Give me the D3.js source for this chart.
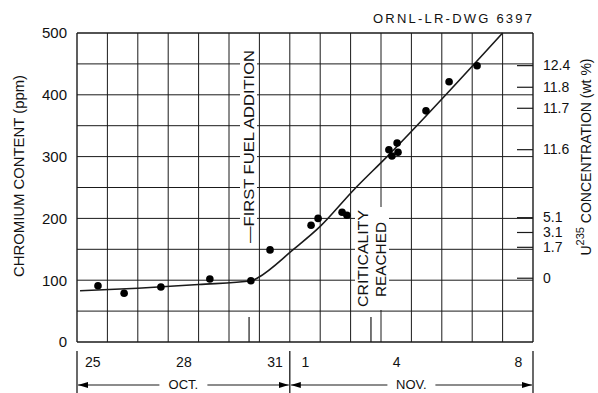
<!DOCTYPE html>
<html><head><meta charset="utf-8">
<script src="https://cdn.jsdelivr.net/npm/d3@7"></script>
<style>
html,body{margin:0;padding:0;background:#fff;}
svg{display:block;}
text{font-family:"Liberation Sans",Arial,sans-serif;fill:#111;}
</style></head><body>
<svg id="chart" width="598" height="393"></svg>
<script>
// ---- data ----
// x is measured in days from the start of Oct 25 (day index i spans [i, i+1])
const dayLabels = ["25","28","31","1","4","8"];
const dayLabelIndex = [0,3,6,7,10,14];
const yTicks = [0,100,200,300,400,500];
const yGrid = [0,50,100,150,200,250,300,350,400,450,500];
const pointDays = [0.69,1.55,2.76,4.37,5.72,6.35,7.70,7.93,8.72,8.88,10.26,10.36,10.53,10.56,11.48,12.24,13.16];
const pointPpm  = [91,79,89,102,99,149,189,200,210,205,311,301,322,307,374,421,447];
const curveDays = [0.1,2.0,4.0,5.75,5.95,7.1,8.0,9.1,10.2,14.0];
const curvePpm  = [83,87,93,99,104,149,187,246,300,500];
const u235Labels = ["12.4","11.8","11.7","11.6","5.1","3.1","1.7","0"];
const u235AtPpm  = [448,413,379,312,202,178,154,104];
const firstFuelDay = 5.66;
const criticalityDay = 9.67;
const monthSpans = [{name:"OCT.", from:0, to:7},{name:"NOV.", from:7, to:15}];

// ---- layout ----
const svg = d3.select("#chart");
const L = 77, R = 533, T = 33, B = 342;
const x = d3.scaleLinear().domain([0,15]).range([L,R]);
const y = d3.scaleLinear().domain([0,500]).range([B,T]);
const ink = "#1a1a1a";

// grid
const g = svg.append("g");
g.selectAll("line.v").data(d3.range(0,16)).join("line")
  .attr("x1",d=>x(d)).attr("x2",d=>x(d)).attr("y1",T).attr("y2",B)
  .attr("stroke",ink).attr("stroke-width",d=>(d===0||d===15)?1.4:1);
g.selectAll("line.h").data(yGrid).join("line")
  .attr("x1",L).attr("x2",R).attr("y1",d=>y(d)).attr("y2",d=>y(d))
  .attr("stroke",ink).attr("stroke-width",d=>(d===0||d===500)?1.6:1);

// annotation white backgrounds + text
function vtext(cx, cy, str, size, len){
  const t = svg.append("text").attr("transform",`translate(${cx},${cy}) rotate(-90)`)
    .attr("text-anchor","middle").attr("dominant-baseline","central")
    .style("font-size",size+"px").text(str);
  if(len) t.attr("textLength",len).attr("lengthAdjust","spacingAndGlyphs");
  return t;
}
svg.append("rect").attr("x",240).attr("y",48).attr("width",17).attr("height",197).attr("fill","#fff");
svg.append("rect").attr("x",355).attr("y",207).attr("width",34).attr("height",103).attr("fill","#fff");
vtext(249, 146.5, "\u2014FIRST FUEL ADDITION", 14, 193);
vtext(362.5, 258.5, "CRITICALITY", 14, 97);
vtext(380.5, 259.5, "REACHED", 14, 75);
// event markers
svg.append("line").attr("x1",x(firstFuelDay)).attr("x2",x(firstFuelDay)).attr("y1",317).attr("y2",B).attr("stroke",ink).attr("stroke-width",1.2);
svg.append("line").attr("x1",x(criticalityDay)).attr("x2",x(criticalityDay)).attr("y1",317).attr("y2",B).attr("stroke",ink).attr("stroke-width",1.2);

// curve
const curveData = curveDays.map((d,i)=>[d,curvePpm[i]]);
svg.append("path").datum(curveData)
  .attr("d", d3.line().x(d=>x(d[0])).y(d=>y(d[1])).curve(d3.curveMonotoneX))
  .attr("fill","none").attr("stroke",ink).attr("stroke-width",1.6);

// points
svg.selectAll("circle.pt").data(pointDays.map((d,i)=>[d,pointPpm[i]])).join("circle")
  .attr("cx",d=>x(d[0])).attr("cy",d=>y(d[1])).attr("r",3.8).attr("fill","#000");

// left axis
const la = svg.append("g").attr("transform",`translate(${L},0)`)
  .call(d3.axisLeft(y).tickValues(yTicks).tickSize(0).tickPadding(10));
la.select(".domain").remove();
la.selectAll("text").style("font-size","15px").attr("fill","#111");

// right axis (U235)
const ra = svg.append("g").attr("transform",`translate(${R},0)`)
  .call(d3.axisRight(y).tickValues(u235AtPpm).tickSizeInner(-16).tickSizeOuter(0).tickPadding(10)
    .tickFormat((d,i)=>u235Labels[i]));
ra.select(".domain").remove();
ra.selectAll("line").attr("stroke",ink).attr("stroke-width",1.2);
ra.selectAll("text").style("font-size","14px").attr("fill","#111");

// bottom axis
const ba = svg.append("g").attr("transform",`translate(0,${B})`)
  .call(d3.axisBottom(x).tickValues(dayLabelIndex.map(d=>d+0.5)).tickSize(0).tickPadding(15)
    .tickFormat((d,i)=>dayLabels[i]));
ba.select(".domain").remove();
ba.selectAll("text").style("font-size","14px").attr("fill","#111");

// month brackets
const defs = svg.append("defs");
defs.append("marker").attr("id","arr").attr("viewBox","0 0 10 6").attr("refX",10).attr("refY",3)
  .attr("markerWidth",10).attr("markerHeight",6).attr("markerUnits","userSpaceOnUse").attr("orient","auto-start-reverse")
  .append("path").attr("d","M0,0 L10,3 L0,6 Z").attr("fill","#000");
[0,7,15].forEach(d=>{
  svg.append("line").attr("x1",x(d)).attr("x2",x(d)).attr("y1",351).attr("y2",393).attr("stroke",ink).attr("stroke-width",1.3);
});
monthSpans.forEach(m=>{
  const x0 = x(m.from), x1 = x(m.to), cx = (x0+x1)/2, yy = 385;
  svg.append("line").attr("x1",x0+1).attr("x2",cx-24).attr("y1",yy).attr("y2",yy)
    .attr("stroke",ink).attr("stroke-width",1.1).attr("marker-start","url(#arr)");
  svg.append("line").attr("x1",cx+24).attr("x2",x1-1).attr("y1",yy).attr("y2",yy)
    .attr("stroke",ink).attr("stroke-width",1.1).attr("marker-end","url(#arr)");
  svg.append("text").attr("x",cx).attr("y",389).attr("text-anchor","middle").style("font-size","13px").text(m.name);
});

// axis titles
vtext(19, 176, "CHROMIUM CONTENT (ppm)", 14, 202);
const rt = svg.append("text").attr("transform","translate(586,157) rotate(-90)")
  .attr("text-anchor","middle").attr("dominant-baseline","central").style("font-size","14px");
rt.append("tspan").text("U");
rt.append("tspan").attr("dy",-6).style("font-size","11px").text("235");
rt.append("tspan").attr("dy",6).text(" CONCENTRATION (wt %)");

// drawing number
svg.append("text").attr("x",532).attr("y",23).attr("text-anchor","end").style("font-size","13px")
  .attr("textLength",159).attr("lengthAdjust","spacing").text("ORNL-LR-DWG 6397");
</script>
</body></html>
